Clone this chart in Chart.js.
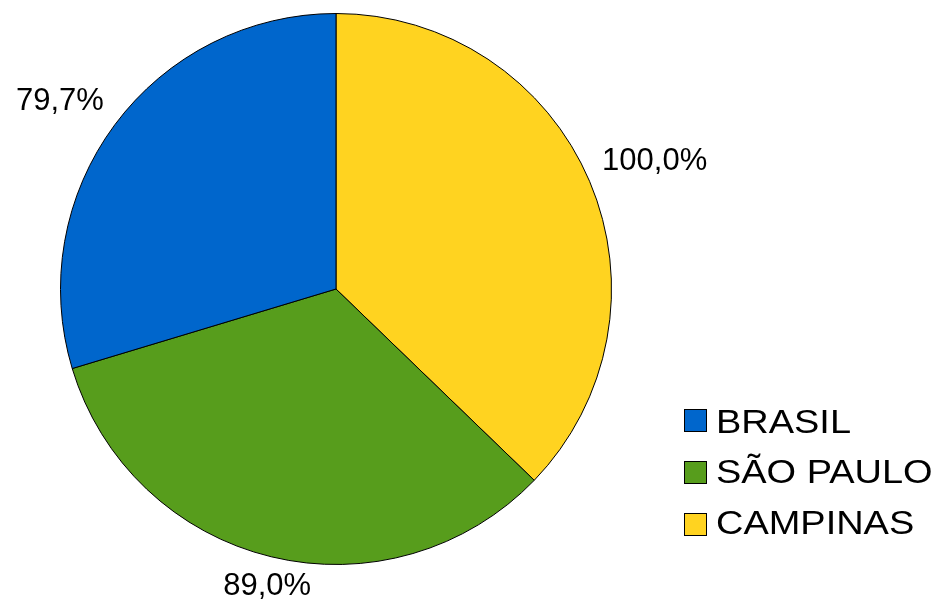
<!DOCTYPE html>
<html>
<head>
<meta charset="utf-8">
<script src="https://cdn.jsdelivr.net/npm/chart.js@4"></script>
<style>
  html, body { margin: 0; padding: 0; background: #ffffff; }
  #wrap { width: 941px; height: 603px; position: relative; }
</style>
</head>
<body>
<div id="wrap"><canvas id="c" width="941" height="603"></canvas></div>
<script>
// Data (slice order from 12 o'clock, clockwise)
const categories = ['CAMPINAS', 'SÃO PAULO', 'BRASIL'];
const values = [100.0, 89.0, 79.7];
const valueLabels = ['100,0%', '89,0%', '79,7%'];
const colors = ['#ffd320', '#579d1c', '#0066cc'];

const labelFont = '31px "Liberation Sans", Arial, sans-serif';
const legendFont = '33px "Liberation Sans", Arial, sans-serif';

const outsideLabels = {
  id: 'outsideLabels',
  afterDatasetsDraw(chart) {
    const ctx = chart.ctx;
    const meta = chart.getDatasetMeta(0);
    ctx.save();
    ctx.font = labelFont;
    ctx.fillStyle = '#000';
    ctx.textAlign = 'center';
    ctx.textBaseline = 'middle';
    meta.data.forEach((arc, i) => {
      const mid = (arc.startAngle + arc.endAngle) / 2;
      const dx = Math.cos(mid), dy = Math.sin(mid);
      const r = arc.outerRadius + 17;
      const w = ctx.measureText(valueLabels[i]).width;
      const fx = 0.94 * Math.sign(dx) * Math.min(1, Math.max(0, (Math.abs(dx) - 0.3) / 0.5));
      const fy = Math.sign(dy) * Math.min(1, Math.abs(dy) / 0.3);
      const cx = arc.x + r * dx + fx * w / 2;
      const cy = arc.y + r * dy + fy * 13.5;
      ctx.fillText(valueLabels[i], cx, cy);
    });
    ctx.restore();
  }
};

const customLegend = {
  id: 'customLegend',
  afterDraw(chart) {
    const ctx = chart.ctx;
    const ds = chart.data.datasets[0];
    const labels = chart.data.labels;
    ctx.save();
    const n = labels.length;
    for (let k = 0; k < n; k++) {
      const i = n - 1 - k; // reversed order
      const sy = 409 + k * 52;
      ctx.fillStyle = ds.backgroundColor[i];
      ctx.fillRect(684, sy, 23, 23);
      ctx.strokeStyle = '#000';
      ctx.lineWidth = 1;
      ctx.strokeRect(684.5, sy + 0.5, 22, 22);
      ctx.save();
      ctx.translate(716, 432.5 + k * 50.5);
      ctx.scale(1.15, 1);
      ctx.font = legendFont;
      ctx.textAlign = 'left';
      ctx.textBaseline = 'alphabetic';
      ctx.fillStyle = '#000';
      ctx.fillText(labels[i], 0, 0);
      ctx.restore();
    }
    ctx.restore();
  }
};

new Chart(document.getElementById('c'), {
  type: 'pie',
  data: {
    labels: categories,
    datasets: [{
      data: values,
      backgroundColor: colors,
      borderColor: '#000000',
      borderWidth: 1
    }]
  },
  options: {
    responsive: false,
    animation: false,
    layout: { padding: { left: 60, top: 13, right: 329, bottom: 38 } },
    plugins: {
      legend: { display: false },
      tooltip: { enabled: false }
    }
  },
  plugins: [outsideLabels, customLegend]
});
</script>
</body>
</html>
